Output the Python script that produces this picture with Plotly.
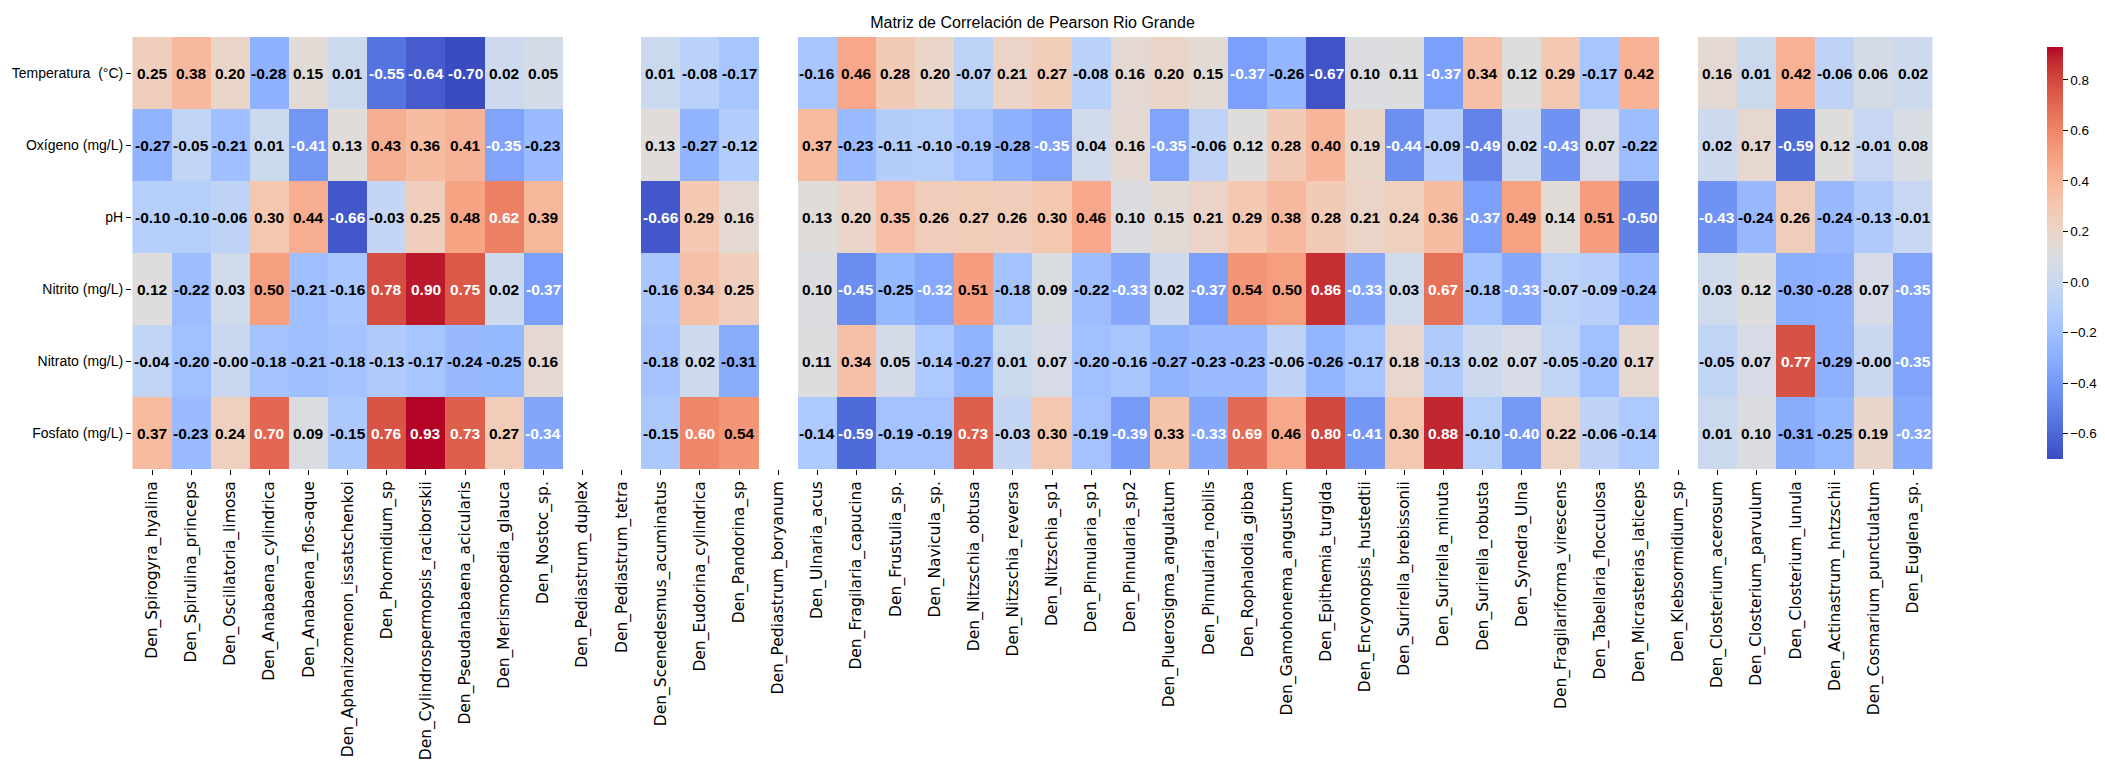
import plotly.graph_objects as go

N = None

species = [
    "Den_Spirogyra_hyalina", "Den_Spirulina_princeps", "Den_Oscillatoria_limosa",
    "Den_Anabaena_cylindrica", "Den_Anabaena_flos-aque", "Den_Aphanizomenon_issatschenkoi",
    "Den_Phormidium_sp", "Den_Cylindrospermopsis_raciborskii", "Den_Pseudanabaena_acicularis",
    "Den_Merismopedia_glauca", "Den_Nostoc_sp.", "Den_Pediastrum_duplex", "Den_Pediastrum_tetra",
    "Den_Scenedesmus_acuminatus", "Den_Eudorina_cylindrica", "Den_Pandorina_sp",
    "Den_Pediastrum_boryanum", "Den_Ulnaria_acus", "Den_Fragilaria_capucina", "Den_Frustulia_sp.",
    "Den_Navicula_sp.", "Den_Nitzschia_obtusa", "Den_Nitzschia_reversa", "Den_Nitzschia_sp1",
    "Den_Pinnularia_sp1", "Den_Pinnularia_sp2", "Den_Pluerosigma_angulatum", "Den_Pinnularia_nobilis",
    "Den_Rophalodia_gibba", "Den_Gamohonema_angustum", "Den_Epithemia_turgida",
    "Den_Encyonopsis_hustedtii", "Den_Surirella_brebissonii", "Den_Surirella_minuta",
    "Den_Surirella_robusta", "Den_Synedra_Ulna", "Den_Fragilariforma_virescens",
    "Den_Tabellaria_flocculosa", "Den_Micrasterias_laticeps", "Den_Klebsormidium_sp",
    "Den_Closterium_acerosum", "Den_Closterium_parvulum", "Den_Closterium_lunula",
    "Den_Actinastrum_hntzschii", "Den_Cosmarium_punctulatum", "Den_Euglena_sp.",
]

variables = ["Temperatura\u00a0 (°C)", "Oxígeno (mg/L)", "pH", "Nitrito (mg/L)", "Nitrato (mg/L)", "Fosfato (mg/L)"]

temperatura = [0.25, 0.38, 0.20, -0.28, 0.15, 0.01, -0.55, -0.64, -0.70, 0.02, 0.05, N, N,
               0.01, -0.08, -0.17, N,
               -0.16, 0.46, 0.28, 0.20, -0.07, 0.21, 0.27, -0.08, 0.16, 0.20, 0.15, -0.37, -0.26, -0.67,
               0.10, 0.11, -0.37, 0.34, 0.12, 0.29, -0.17, 0.42, N,
               0.16, 0.01, 0.42, -0.06, 0.06, 0.02]
oxigeno = [-0.27, -0.05, -0.21, 0.01, -0.41, 0.13, 0.43, 0.36, 0.41, -0.35, -0.23, N, N,
           0.13, -0.27, -0.12, N,
           0.37, -0.23, -0.11, -0.10, -0.19, -0.28, -0.35, 0.04, 0.16, -0.35, -0.06, 0.12, 0.28, 0.40,
           0.19, -0.44, -0.09, -0.49, 0.02, -0.43, 0.07, -0.22, N,
           0.02, 0.17, -0.59, 0.12, -0.01, 0.08]
ph = [-0.10, -0.10, -0.06, 0.30, 0.44, -0.66, -0.03, 0.25, 0.48, 0.62, 0.39, N, N,
      -0.66, 0.29, 0.16, N,
      0.13, 0.20, 0.35, 0.26, 0.27, 0.26, 0.30, 0.46, 0.10, 0.15, 0.21, 0.29, 0.38, 0.28,
      0.21, 0.24, 0.36, -0.37, 0.49, 0.14, 0.51, -0.50, N,
      -0.43, -0.24, 0.26, -0.24, -0.13, -0.01]
nitrito = [0.12, -0.22, 0.03, 0.50, -0.21, -0.16, 0.78, 0.90, 0.75, 0.02, -0.37, N, N,
           -0.16, 0.34, 0.25, N,
           0.10, -0.45, -0.25, -0.32, 0.51, -0.18, 0.09, -0.22, -0.33, 0.02, -0.37, 0.54, 0.50, 0.86,
           -0.33, 0.03, 0.67, -0.18, -0.33, -0.07, -0.09, -0.24, N,
           0.03, 0.12, -0.30, -0.28, 0.07, -0.35]
nitrato = [-0.04, -0.20, -0.0, -0.18, -0.21, -0.18, -0.13, -0.17, -0.24, -0.25, 0.16, N, N,
           -0.18, 0.02, -0.31, N,
           0.11, 0.34, 0.05, -0.14, -0.27, 0.01, 0.07, -0.20, -0.16, -0.27, -0.23, -0.23, -0.06, -0.26,
           -0.17, 0.18, -0.13, 0.02, 0.07, -0.05, -0.20, 0.17, N,
           -0.05, 0.07, 0.77, -0.29, -0.0, -0.35]
fosfato = [0.37, -0.23, 0.24, 0.70, 0.09, -0.15, 0.76, 0.93, 0.73, 0.27, -0.34, N, N,
           -0.15, 0.60, 0.54, N,
           -0.14, -0.59, -0.19, -0.19, 0.73, -0.03, 0.30, -0.19, -0.39, 0.33, -0.33, 0.69, 0.46, 0.80,
           -0.41, 0.30, 0.88, -0.10, -0.40, 0.22, -0.06, -0.14, N,
           0.01, 0.10, -0.31, -0.25, 0.19, -0.32]

z = [temperatura, oxigeno, ph, nitrito, nitrato, fosfato]

coolwarm_rgb = [
    (59, 76, 192), (68, 90, 204), (77, 104, 215), (87, 117, 225), (98, 130, 234),
    (108, 142, 241), (119, 154, 247), (130, 165, 251), (141, 176, 254), (152, 185, 255),
    (163, 194, 255), (174, 201, 253), (184, 208, 249), (194, 213, 244), (204, 217, 238),
    (213, 219, 230), (221, 221, 221), (229, 216, 209), (236, 211, 197), (241, 204, 184),
    (245, 196, 173), (247, 187, 160), (247, 177, 148), (247, 166, 135), (244, 154, 123),
    (241, 141, 111), (236, 127, 99), (229, 112, 88), (222, 96, 77), (213, 80, 66),
    (203, 62, 56), (192, 40, 47), (180, 4, 38),
]
n = len(coolwarm_rgb) - 1
colorscale = [[i / n, "rgb(%d,%d,%d)" % c] for i, c in enumerate(coolwarm_rgb)]

vals = [v for row in z for v in row if v is not None]
zmin, zmax = min(vals), max(vals)

NARROW = "Liberation Sans, Arial, sans-serif"

fig = go.Figure(go.Heatmap(
    z=z, x=species, y=variables,
    colorscale=colorscale, zmin=zmin, zmax=zmax,
    xgap=0, ygap=0, hoverongaps=False,
    colorbar=dict(
        thickness=16, len=1.0, lenmode="fraction", y=0.5, yanchor="middle",
        x=1.0633, xanchor="left", xpad=0, outlinewidth=0,
        ticks="outside", ticklen=5, tickcolor="black",
        tick0=0, dtick=0.2, tickformat=".1f",
        tickfont=dict(family=NARROW, size=13.5, color="black"),
    ),
))

annotations = []
for yi, row in enumerate(z):
    for xi, v in enumerate(row):
        if v is None:
            continue
        color = "white" if (v <= -0.315 or v >= 0.57) else "black"
        annotations.append(dict(
            x=species[xi], y=variables[yi], xref="x", yref="y",
            text=f"{v:.2f}", showarrow=False,
            font=dict(family=NARROW, size=15.5, color=color, weight="bold"),
        ))

fig.update_layout(
    width=2105, height=762,
    margin=dict(l=132, r=172, t=37, b=293, autoexpand=False),
    paper_bgcolor="white", plot_bgcolor="white",
    title=dict(
        text="Matriz de Correlación de Pearson Rio Grande",
        x=1032.5 / 2105, xref="container", xanchor="center",
        y=1 - 22 / 762, yref="container", yanchor="middle",
        font=dict(family=NARROW, size=16, color="black"),
    ),
    annotations=annotations,
    xaxis=dict(
        tickangle=-90, ticks="outside", ticklen=5, tickcolor="black",
        tickfont=dict(family="DejaVu Sans, sans-serif", size=15.5, color="black"),
        showgrid=False, zeroline=False, showline=False, automargin=False,
    ),
    yaxis=dict(
        autorange="reversed", ticks="outside", ticklen=5, tickcolor="black",
        tickfont=dict(family=NARROW, size=14, color="black"),
        showgrid=False, zeroline=False, showline=False, automargin=False,
    ),
)

fig.write_html("out.html", config={"displayModeBar": False},
               post_script="document.body.style.margin='0';")
